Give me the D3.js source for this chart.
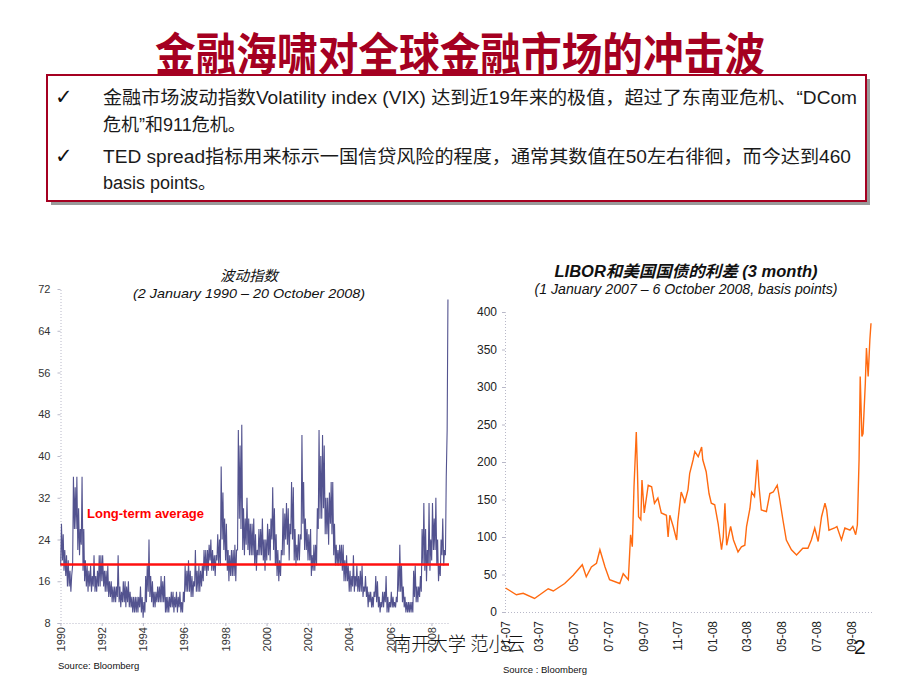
<!DOCTYPE html>
<html><head><meta charset="utf-8">
<script src="https://cdn.jsdelivr.net/npm/d3@7"></script>
<style>body{margin:0;background:#fff}svg{display:block}</style>
</head><body><svg id="c" width="920" height="690"></svg>
<script>
// ---------- DATA ----------
const pageTitle = "金融海啸对全球金融市场的冲击波";
const bulletLines = [
  "金融市场波动指数Volatility index (VIX) 达到近19年来的极值，超过了东南亚危机、“DCom",
  "危机”和911危机。",
  "TED spread指标用来标示一国信贷风险的程度，通常其数值在50左右徘徊，而今达到460",
  "basis points。"
];

// VIX monthly low / high, Jan 1990 .. Oct 2008
const vixStartYear = 1990;
const vixHigh = [
  27,25,22,21,20,18,17,36,34,36,30,26,
  36,26,20,19,18,19,17,21,17,18,21,21,
  21,18,18,19,16,16,15,15,15,21,15,14,
  16,16,15,16,14,13,13,13,13,13,15,13,
  12,17,19,24,17,16,14,14,15,15,17,16,
  17,13,13,13,14,14,13,14,13,14,12,14,
  19,18,20,18,17,16,22,18,19,18,19,22,
  22,22,23,24,22,21,21,25,24,38,33,28,
  27,22,21,22,22,23,22,45,42,46,30,28,
  32,28,27,27,28,25,22,26,26,28,24,24,
  27,26,28,34,30,25,22,20,22,30,29,31,
  30,27,35,34,26,23,25,25,44,35,28,26,
  25,26,21,23,23,30,45,40,44,42,32,32,
  33,35,35,27,23,22,23,23,23,20,21,19,
  18,17,21,17,19,17,18,19,15,17,15,14,
  14,13,14,17,16,13,12,14,14,17,13,12,
  14,13,12,13,19,23,19,15,13,12,12,12,
  12,18,19,15,15,17,26,31,26,22,31,24,
  31,28,32,24,19,24,28,22,36,70
];
const vixLow = [
  19,20,18,17,15,15,14,19,26,26,22,21,
  23,18,16,15,14,15,14,15,14,14,15,15,
  16,15,14,14,13,13,12,12,12,13,12,11,
  12,12,11,12,11,11,10,10,10,10,11,10,
  9,10,12,14,13,12,11,11,12,12,12,12,
  12,10,10,10,11,11,10,11,10,11,10,10,
  12,14,14,14,13,13,15,14,14,14,15,16,
  18,17,18,20,18,18,17,20,19,19,24,22,
  20,18,16,17,17,17,16,22,28,26,22,21,
  23,22,21,21,21,19,18,21,21,21,20,18,
  20,21,20,24,22,19,17,16,17,21,21,24,
  23,20,25,24,20,19,20,20,24,27,22,22,
  20,20,17,18,18,19,26,28,28,30,25,25,
  23,27,25,21,19,19,19,19,18,16,16,16,
  14,14,15,14,15,14,14,14,13,14,13,11,
  12,11,11,13,12,11,10,11,11,12,10,10,
  11,11,11,11,12,14,14,12,11,10,10,10,
  10,10,13,12,12,13,14,19,18,16,19,18,
  20,22,22,19,16,17,21,19,21,45
];
const vixAverage = 19.2;
const vixTicks = [8,16,24,32,40,48,56,64,72];
const vixYearTicks = [1990,1992,1994,1996,1998,2000,2002,2004,2006,2008];

// LIBOR - T-bill spread (3 month), basis points
const tedDates = ["2007-01-02","2007-01-21","2007-02-02","2007-02-22","2007-03-18","2007-03-27","2007-04-16","2007-05-01","2007-05-17","2007-05-24",
  "2007-06-02","2007-06-11","2007-06-17","2007-06-26","2007-07-04","2007-07-22","2007-07-28","2007-08-06","2007-08-10","2007-08-13",
  "2007-08-16","2007-08-20","2007-08-22","2007-08-24","2007-08-28","2007-08-30","2007-09-03","2007-09-10","2007-09-16","2007-09-21",
  "2007-09-27","2007-10-03","2007-10-12","2007-10-15","2007-10-18","2007-10-24","2007-10-30","2007-11-01","2007-11-07","2007-11-12",
  "2007-11-13","2007-11-19","2007-11-22","2007-11-28","2007-12-01","2007-12-07","2007-12-13","2007-12-15","2007-12-21","2007-12-26",
  "2007-12-30","2008-01-05","2008-01-11","2008-01-17","2008-01-20","2008-01-23","2008-01-26","2008-02-02","2008-02-07","2008-02-15",
  "2008-02-21","2008-02-27","2008-03-01","2008-03-07","2008-03-10","2008-03-15","2008-03-20","2008-03-23","2008-03-27","2008-04-05",
  "2008-04-11","2008-04-17","2008-04-24","2008-04-28","2008-05-04","2008-05-10","2008-05-19","2008-05-28","2008-06-08","2008-06-17",
  "2008-06-23","2008-06-29","2008-07-05","2008-07-11","2008-07-17","2008-07-20","2008-07-24","2008-08-03","2008-08-07","2008-08-15",
  "2008-08-21","2008-08-30","2008-09-04","2008-09-09","2008-09-12","2008-09-15","2008-09-17","2008-09-20","2008-09-22","2008-09-26",
  "2008-09-28","2008-10-01","2008-10-04","2008-10-06"];
const tedValues = [32,23,25,18,31,28,38,49,63,47,
  60,65,83,60,43,38,51,43,103,87,
  167,240,189,127,123,176,132,169,167,145,
  152,132,129,100,129,114,96,120,160,150,
  145,163,185,203,214,207,220,203,187,158,
  145,143,118,83,100,145,89,114,96,80,
  87,89,114,138,160,154,203,167,136,134,
  158,160,169,152,123,96,83,76,85,85,
  96,112,94,127,145,136,109,112,114,96,
  112,109,114,103,116,203,314,234,238,305,
  352,314,363,385];
const tedTicks = [0,50,100,150,200,250,300,350,400];
const tedMonthTicks = ["2007-01","2007-03","2007-05","2007-07","2007-09","2007-11","2008-01","2008-03","2008-05","2008-07","2008-09"];

// ---------- DRAW ----------
const svg = d3.select("#c");
const LAT = "'Liberation Sans', Arial, 'Noto Sans CJK SC', sans-serif";
const CJK = "'Liberation Sans', 'Noto Sans CJK SC', sans-serif";

// Title
svg.append("text").attr("x", 460).attr("y", 71).attr("text-anchor", "middle")
  .attr("font-family", "'Noto Sans CJK SC', sans-serif").attr("font-weight", "bold")
  .attr("font-size", 45).attr("fill", "#a50021")
  .attr("textLength", 610).attr("lengthAdjust", "spacingAndGlyphs").text(pageTitle);

// Box with shadow
svg.append("rect").attr("x", 51).attr("y", 79).attr("width", 819).attr("height", 126).attr("fill", "#9a9a9a");
svg.append("rect").attr("x", 47).attr("y", 75).attr("width", 819).attr("height", 126)
  .attr("fill", "#fff").attr("stroke", "#a50021").attr("stroke-width", 2);

const lineY = [104, 131, 163, 189];
const lineLen = [754, null, 748, null];
bulletLines.forEach((t, i) => {
  const el = svg.append("text").attr("x", 103).attr("y", lineY[i])
    .attr("font-family", CJK).attr("font-size", 18).attr("fill", "#1a1a1a").text(t);
  if (lineLen[i]) el.attr("textLength", lineLen[i]).attr("lengthAdjust", "spacingAndGlyphs");
});
[104, 163].forEach(y => svg.append("text").attr("x", 55).attr("y", y)
  .attr("font-family", "'DejaVu Sans', sans-serif").attr("font-size", 21).attr("fill", "#111").text("✓"));

// ---------- Left chart: VIX ----------
const vixPts = [];
vixHigh.forEach((h, i) => {
  const yr = vixStartYear + Math.floor(i / 12), m = i % 12;
  vixPts.push({d: new Date(yr, m, 5), v: vixLow[i]});
  vixPts.push({d: new Date(yr, m, 19), v: h});
});
const xL = d3.scaleTime().domain([new Date(1990, 0, 2), new Date(2008, 9, 20)]).range([60.5, 448]);
const yL = d3.scaleLinear().domain([8, 72]).range([623, 289]);

const gLy = svg.append("g").attr("transform", "translate(60.5,0)")
  .call(d3.axisLeft(yL).tickValues(vixTicks).tickSize(3).tickPadding(7));
const gLx = svg.append("g").attr("transform", "translate(0,623)")
  .call(d3.axisBottom(xL).tickValues(vixYearTicks.map(y => new Date(y, 0, 1))).tickSize(3).tickFormat(d3.timeFormat("%Y")));
[gLy, gLx].forEach(g => {
  g.select(".domain").attr("stroke", "#b8b8c8").attr("stroke-dasharray", "1,2");
  g.selectAll(".tick line").attr("stroke", "#b8b8c8");
  g.selectAll("text").attr("font-family", LAT).attr("font-size", 11).attr("fill", "#333");
});
gLx.select(".domain").attr("d", "M60.5,0.5H449");
gLx.selectAll(".tick text").attr("transform", "translate(0,4) rotate(-90)")
  .attr("text-anchor", "end").attr("x", 0).attr("y", 0).attr("dy", "0.35em");

svg.append("path").datum(vixPts)
  .attr("d", d3.line().x(p => xL(p.d)).y(p => yL(p.v)))
  .attr("fill", "none").attr("stroke", "#53538f").attr("stroke-width", 1.1);

svg.append("line").attr("x1", 60.5).attr("x2", 449)
  .attr("y1", yL(vixAverage)).attr("y2", yL(vixAverage))
  .attr("stroke", "#ff1010").attr("stroke-width", 2.5);

svg.append("text").attr("x", 87).attr("y", 518).attr("font-family", LAT)
  .attr("font-weight", "bold").attr("font-size", 13).attr("fill", "#ff0000").text("Long-term average");

svg.append("text").attr("x", 249).attr("y", 281).attr("text-anchor", "middle")
  .attr("font-family", CJK).attr("font-style", "italic").attr("font-size", 14.5).attr("fill", "#111").text("波动指数");
svg.append("text").attr("x", 249).attr("y", 298).attr("text-anchor", "middle")
  .attr("font-family", LAT).attr("font-style", "italic").attr("font-size", 13.5).attr("fill", "#111")
  .attr("textLength", 232).attr("lengthAdjust", "spacingAndGlyphs")
  .text("(2 January 1990  – 20 October 2008)");
svg.append("text").attr("x", 58).attr("y", 669).attr("font-family", LAT).attr("font-size", 9.5)
  .attr("fill", "#111").text("Source: Bloomberg");

// ---------- Right chart: LIBOR spread ----------
const parse = d3.timeParse("%Y-%m-%d");
const tedPts = tedDates.map((d, i) => ({d: parse(d), v: tedValues[i]}));
const xR = d3.scaleTime().domain([parse("2007-01-01"), parse("2008-10-06")]).range([505, 871]);
const yR = d3.scaleLinear().domain([0, 400]).range([612, 312]);

const gRy = svg.append("g").attr("transform", "translate(505,0)")
  .call(d3.axisLeft(yR).tickValues(tedTicks).tickSize(3).tickPadding(5));
const gRx = svg.append("g").attr("transform", "translate(0,612)")
  .call(d3.axisBottom(xR).tickValues(tedMonthTicks.map(s => parse(s + "-01"))).tickSize(0).tickFormat(d3.timeFormat("%m-%y")));
[gRy, gRx].forEach(g => {
  g.select(".domain").attr("stroke", "#b8b8c8").attr("stroke-dasharray", "1,2");
  g.selectAll(".tick line").attr("stroke", "#b8b8c8");
  g.selectAll("text").attr("font-family", LAT).attr("font-size", 12).attr("fill", "#222");
});
gRx.select(".domain").attr("d", "M505,0.5H872");
gRx.selectAll(".tick text").attr("transform", "translate(0,9) rotate(-90)")
  .attr("text-anchor", "end").attr("x", 0).attr("y", 0).attr("dy", "0.35em");

svg.append("path").datum(tedPts)
  .attr("d", d3.line().x(p => xR(p.d)).y(p => yR(p.v)))
  .attr("fill", "none").attr("stroke", "#ff6a10").attr("stroke-width", 1.4);

svg.append("text").attr("x", 686).attr("y", 277).attr("text-anchor", "middle")
  .attr("font-family", CJK).attr("font-style", "italic").attr("font-weight", "bold")
  .attr("font-size", 16).attr("fill", "#111")
  .attr("textLength", 263).attr("lengthAdjust", "spacingAndGlyphs")
  .text("LIBOR和美国国债的利差 (3 month)");
svg.append("text").attr("x", 686).attr("y", 294).attr("text-anchor", "middle")
  .attr("font-family", LAT).attr("font-style", "italic").attr("font-size", 14).attr("fill", "#111")
  .attr("textLength", 303).attr("lengthAdjust", "spacingAndGlyphs")
  .text("(1 January 2007  – 6 October 2008, basis points)");
svg.append("text").attr("x", 503).attr("y", 673).attr("font-family", LAT).attr("font-size", 9.5)
  .attr("fill", "#111").text("Source : Bloomberg");

// Footer
svg.append("text").attr("x", 393).attr("y", 651).attr("font-family", "'Noto Sans CJK SC', sans-serif")
  .attr("font-weight", 300).attr("font-size", 19).attr("fill", "#111")
  .attr("textLength", 132).attr("lengthAdjust", "spacingAndGlyphs").text("南开大学  范小云");
svg.append("text").attr("x", 854).attr("y", 654).attr("font-family", LAT)
  .attr("font-size", 21).attr("fill", "#111").text("2");
</script></body></html>
